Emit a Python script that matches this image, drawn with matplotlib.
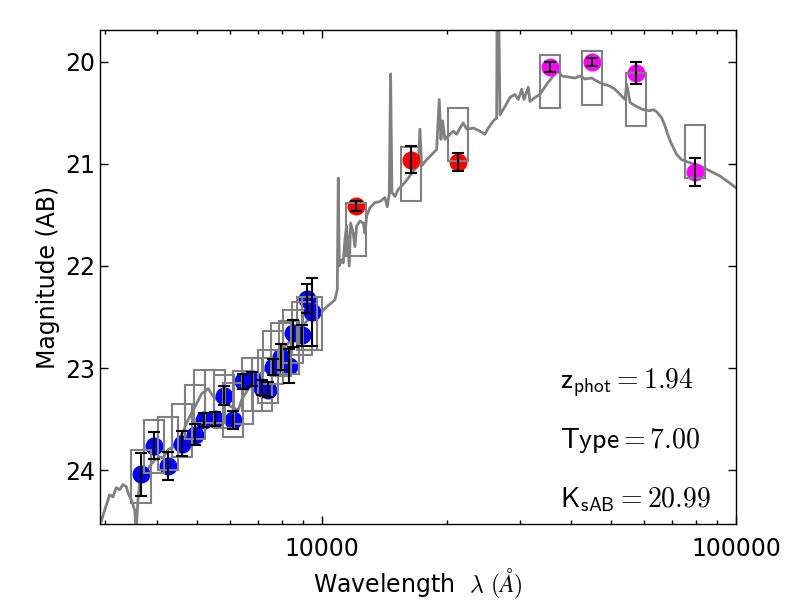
import numpy as np
import matplotlib
matplotlib.use("Agg")
import matplotlib.pyplot as plt
from matplotlib.patches import Rectangle
from matplotlib.ticker import FixedLocator, FixedFormatter, NullFormatter, LogLocator

plt.rcParams["mathtext.fontset"] = "cm"
plt.rcParams["font.family"] = "DejaVu Sans"

# best-fit template spectrum (wavelength in Angstrom, AB mag)
spec_lam = [2930, 2987, 3071, 3128, 3185, 3246, 3306, 3368, 3400, 3463, 3529, 3560,
            3594, 3628, 3730, 3835, 3944, 4055, 4130, 4246, 4366, 4490, 4617, 4694,
            4826, 4962, 5121, 5313, 5462, 5670, 5939, 6106, 6278, 6397, 6578, 6825,
            7016, 7214, 7418, 7627, 7842, 7993, 8140, 8370, 8606, 8848, 9097, 9354,
            9710, 9983, 10265, 10554, 10750, 10889, 10949, 11010, 11157, 11256, 11364,
            11472, 11637, 11728, 11899, 12012, 12126, 12352, 12582, 12701, 12822, 13058,
            13428, 13806, 14194, 14375, 14537, 14648, 14757, 15004, 15283, 15714, 16157,
            16612, 17081, 17243, 17407, 17899, 18404, 18923, 19196, 19379, 19563, 19817,
            20377, 20757, 21153, 21542, 21943, 22361, 23199, 24073, 24753, 25213, 25925,
            26420, 26536, 26915, 27670, 28452, 29256, 29800, 30368, 30756, 31501, 31800,
            32697, 33621, 34898, 36203, 37224, 37933, 39347, 40839, 42000, 43185, 44817,
            46082, 47811, 49624, 51017, 52458, 53939, 54450, 55463, 57559, 59722, 61991,
            63142, 64331, 66148, 67379, 68632, 69941, 71917, 73935, 77434, 81846, 86545,
            91500, 96720, 101100]
spec_mag = [24.50, 24.39, 24.24, 24.26, 24.17, 24.19, 24.14, 24.16, 24.22, 24.29, 24.39, 24.60,
            24.29, 24.12, 24.03, 23.96, 23.90, 23.87, 23.88, 23.80, 23.77, 23.70, 23.63, 23.55,
            23.45, 23.36, 23.25, 23.20, 23.28, 23.33, 23.36, 23.39, 23.41, 23.31, 23.23, 23.11,
            23.08, 23.03, 23.00, 22.95, 22.90, 22.82, 22.79, 22.74, 22.67, 22.62, 22.56, 22.51,
            22.51, 22.45, 22.40, 22.36, 22.33, 22.23, 21.14, 22.00, 21.94, 21.97, 21.74,
            21.61, 22.00, 21.58, 21.68, 21.81, 21.61, 21.56, 21.58, 21.68, 21.51, 21.43,
            21.38, 21.37, 21.33, 21.42, 21.30, 20.12, 21.28, 21.32, 21.25, 21.20, 21.14,
            21.07, 21.02, 20.66, 21.02, 20.96, 20.91, 20.86, 20.37, 20.76, 20.58, 20.76,
            20.71, 20.68, 20.71, 20.65, 20.60, 20.66, 20.65, 20.68, 20.71, 20.65, 20.58,
            20.55, 18.50, 20.52, 20.44, 20.35, 20.32, 20.37, 20.27, 20.37, 20.25, 20.39,
            20.35, 20.32, 20.22, 20.14, 20.09, 20.14, 20.15, 20.16, 20.14, 20.17, 20.16,
            20.19, 20.22, 20.24, 20.27, 20.32, 20.37, 20.22, 20.40, 20.44, 20.47, 20.48,
            20.47, 20.49, 20.55, 20.63, 20.73, 20.81, 20.91, 20.96, 20.99, 21.02, 21.07,
            21.12, 21.19, 21.25]

# optical photometry
opt_lam = [3648, 3936, 4255, 4582, 4926, 5196, 5514, 5799, 6107, 6436,
           6761, 7177, 7413, 7626, 7960, 8336, 8495, 8932, 9185, 9444]
opt_mag = [24.04, 23.76, 23.96, 23.74, 23.65, 23.51, 23.50, 23.27, 23.51, 23.13,
           23.11, 23.19, 23.21, 22.99, 22.89, 22.98, 22.66, 22.68, 22.32, 22.45]
opt_err = [0.21, 0.13, 0.14, 0.12, 0.10, 0.07, 0.07, 0.09, 0.09, 0.07,
           0.07, 0.07, 0.07, 0.08, 0.13, 0.17, 0.13, 0.10, 0.14, 0.33]
opt_model = [24.06, 23.77, 23.74, 23.61, 23.43, 23.28, 23.28, 23.33, 23.41, 23.29,
             23.16, 23.16, 23.08, 22.90, 22.82, 22.80, 22.69, 22.61, 22.56, 22.56]

# near-infrared photometry
nir_lam = [12081, 16377, 21310]
nir_mag = [21.41, 20.96, 20.98]
nir_err = [0.05, 0.13, 0.09]
nir_model = [21.64, 21.10, 20.71]

# IRAC photometry
irac_lam = [35540, 44880, 57260, 79430]
irac_mag = [20.05, 20.00, 20.11, 21.08]
irac_err = [0.05, 0.04, 0.11, 0.14]
irac_model = [20.19, 20.16, 20.37, 20.88]

zphot = 1.94
sed_type = 7.00
ks_ab = 20.99

fig = plt.figure(figsize=(8, 6), dpi=100)
fig.patch.set_facecolor("white")
ax = fig.add_axes([0.125, 0.126, 0.795, 0.824])

ax.plot(spec_lam, spec_mag, color="gray", lw=2, zorder=1)

box_dex = 0.024
box_half = 0.26
for lams, mags, errs, models, col in [(opt_lam, opt_mag, opt_err, opt_model, "blue"),
                                       (nir_lam, nir_mag, nir_err, nir_model, "red"),
                                       (irac_lam, irac_mag, irac_err, irac_model, "magenta")]:
    ax.plot(lams, mags, "o", color=col, mec=col, ms=12, zorder=2)
    for lam, mod in zip(lams, models):
        x0 = lam / 10 ** box_dex
        x1 = lam * 10 ** box_dex
        ax.add_patch(Rectangle((x0, mod - box_half), x1 - x0, 2 * box_half,
                               fill=False, ec="gray", lw=1.5, zorder=3))
    ax.errorbar(lams, mags, yerr=errs, fmt="none", ecolor="k", elinewidth=1.5,
                capsize=4, capthick=1.5, zorder=4)

ax.set_xscale("log")
ax.set_xlim(2910, 100000)
ax.set_ylim(24.53, 19.69)

ax.xaxis.set_major_locator(FixedLocator([10000, 100000]))
ax.xaxis.set_major_formatter(FixedFormatter(["10000", "100000"]))
ax.xaxis.set_minor_locator(LogLocator(base=10, subs=np.arange(2, 10)))
ax.xaxis.set_minor_formatter(NullFormatter())
ax.set_yticks([20, 21, 22, 23, 24])

ax.tick_params(which="both", direction="in", top=True, right=True, labelsize=17)
ax.tick_params(which="major", length=6, width=1)
ax.tick_params(which="minor", length=3, width=1)
ax.tick_params(axis="x", which="major", pad=9)
for s in ax.spines.values():
    s.set_linewidth(1)

ax.set_xlabel(r"Wavelength  $\lambda\ (\AA)$", fontsize=17)
ax.set_ylabel("Magnitude (AB)", fontsize=17)

ax.text(0.724, 0.286, r"$\mathsf{z_{phot}} = %.2f$" % zphot, transform=ax.transAxes,
        fontsize=20, va="center")
ax.text(0.724, 0.169, r"$\mathsf{Type} = %.2f$" % sed_type, transform=ax.transAxes,
        fontsize=20, va="center")
ax.text(0.724, 0.051, r"$\mathsf{K_{sAB}} = %.2f$" % ks_ab, transform=ax.transAxes,
        fontsize=20, va="center")

fig.savefig("out.png", dpi=100)
